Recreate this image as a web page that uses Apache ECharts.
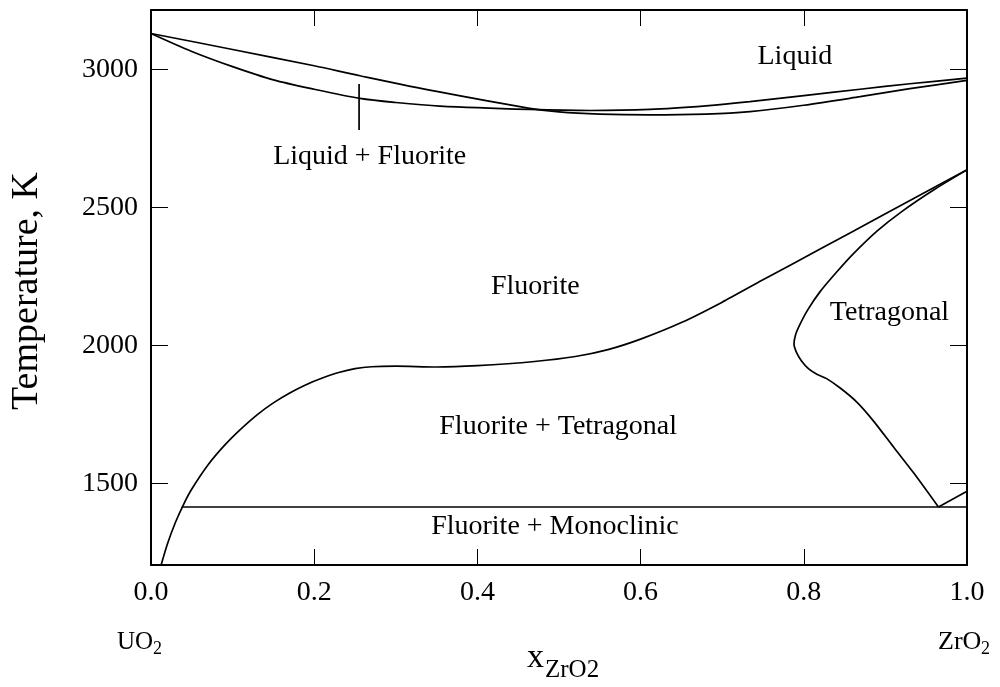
<!DOCTYPE html>
<html><head><meta charset="utf-8">
<script src="https://cdn.jsdelivr.net/npm/echarts@6/dist/echarts.min.js"></script>
<style>html,body{margin:0;padding:0;background:#fff}#c{width:1000px;height:687px}</style>
</head><body><div id="c"></div>
<script>
// ---- data ----
const yTickValues = [1500, 2000, 2500, 3000];
const xTickInterval = 0.2;

const liquidusX = [0, 0.1, 0.2, 0.256, 0.35, 0.464, 0.5, 0.55, 0.611, 0.68, 0.734, 0.8, 0.869, 0.93, 1.0];
const liquidusT = [3130, 3072, 3013, 2977, 2920, 2859, 2846, 2838, 2835, 2838, 2847, 2870, 2901, 2930, 2960];

const solidusX = [0, 0.05, 0.1, 0.15, 0.2, 0.256, 0.3, 0.354, 0.464, 0.538, 0.611, 0.68, 0.734, 0.8, 0.869, 0.93, 1.0];
const solidusT = [3130, 3065, 3010, 2962, 2928, 2895, 2880, 2867, 2855, 2851, 2855, 2868, 2883, 2905, 2928, 2948, 2968];

const fluoriteX = [0.010, 0.02, 0.03, 0.04, 0.05, 0.07, 0.09, 0.11, 0.13, 0.15, 0.17, 0.19, 0.21, 0.23, 0.25, 0.27, 0.30, 0.35, 0.40, 0.47, 0.52, 0.56, 0.60, 0.65, 0.70, 0.75, 0.82, 0.90, 1.0];
const fluoriteT = [1180, 1280, 1360, 1425, 1480, 1568, 1638, 1697, 1749, 1792, 1828, 1858, 1882, 1902, 1916, 1923, 1925, 1922, 1927, 1942, 1960, 1985, 2023, 2083, 2157, 2238, 2349, 2477, 2636];

const tetragonalX = [1.0, 0.96, 0.92, 0.89, 0.86, 0.84, 0.82, 0.805, 0.795, 0.790, 0.788, 0.791, 0.797, 0.806, 0.816, 0.828, 0.845, 0.865, 0.885, 0.91, 0.935, 0.965];
const tetragonalT = [2636, 2565, 2485, 2415, 2330, 2265, 2195, 2130, 2075, 2040, 2005, 1975, 1945, 1915, 1896, 1880, 1845, 1795, 1728, 1632, 1537, 1415];

const monoclinicX = [0.965, 1.0];
const monoclinicT = [1415, 1472];

const eutectoidX = [0.0376, 1.0];
const eutectoidT = [1415, 1415];

const markerX = [0.255, 0.255];
const markerT = [2780, 2947];

const regionNames = ['Liquid', 'Liquid + Fluorite', 'Fluorite', 'Tetragonal', 'Fluorite + Tetragonal', 'Fluorite + Monoclinic'];
const regionX = [0.789, 0.268, 0.471, 0.905, 0.499, 0.495];
const regionT = [3045, 2683, 2213, 2118, 1706, 1344];

// ---- chart ----
const FONT = "'Liberation Serif', 'Times New Roman', serif";
const pairs = (xs, ys) => xs.map((x, i) => [x, ys[i]]);
const chart = echarts.init(document.getElementById('c'), null, {renderer: 'canvas'});

function lineSeries(xs, ys, smooth) {
  return {
    type: 'line', data: pairs(xs, ys), showSymbol: false, symbol: 'none',
    smooth: smooth, lineStyle: {color: '#000', width: 1.7}, silent: true, clip: true
  };
}

const axisCommonX = {
  type: 'value', min: 0, max: 1, interval: xTickInterval,
  axisLine: {show: true, onZero: false, lineStyle: {color: '#000', width: 2}},
  axisTick: {show: true, inside: true, length: 16, lineStyle: {color: '#000', width: 1}},
  splitLine: {show: false}
};
const axisCommonY = {
  type: 'value', min: 1205, max: 3215,
  axisLine: {show: true, onZero: false, lineStyle: {color: '#000', width: 2}},
  axisTick: {show: true, inside: true, length: 17, customValues: yTickValues, lineStyle: {color: '#000', width: 1}},
  splitLine: {show: false}
};

chart.setOption({
  animation: false,
  backgroundColor: '#fff',
  grid: {left: 151, right: 33, top: 10, bottom: 122, containLabel: false},
  xAxis: [
    Object.assign({}, axisCommonX, {
      position: 'bottom',
      axisLabel: {show: true, margin: 14, color: '#000', fontFamily: FONT, fontSize: 28,
        formatter: v => v.toFixed(1)}
    }),
    Object.assign({}, axisCommonX, {position: 'top', axisLabel: {show: false}})
  ],
  yAxis: [
    Object.assign({}, axisCommonY, {
      position: 'left',
      axisLabel: {show: true, margin: 13, color: '#000', fontFamily: FONT, fontSize: 28,
        customValues: yTickValues, formatter: v => String(v)}
    }),
    Object.assign({}, axisCommonY, {position: 'right', axisLabel: {show: false}})
  ],
  series: [
    lineSeries(liquidusX, liquidusT, 0.3),
    lineSeries(solidusX, solidusT, 0.3),
    lineSeries(fluoriteX, fluoriteT, 0.25),
    lineSeries(tetragonalX, tetragonalT, 0.25),
    lineSeries(monoclinicX, monoclinicT, false),
    lineSeries(eutectoidX, eutectoidT, false),
    lineSeries(markerX, markerT, false),
    {
      type: 'scatter', silent: true, symbolSize: 1,
      itemStyle: {color: 'rgba(0,0,0,0)'},
      data: regionNames.map((n, i) => ({name: n, value: [regionX[i], regionT[i]]})),
      label: {show: true, position: 'inside', formatter: '{b}', color: '#000', opacity: 1,
        textBorderWidth: 0, fontFamily: FONT, fontSize: 28}
    }
  ],
  graphic: [
    {type: 'text', x: 27, y: 291, rotation: Math.PI / 2,
      style: {text: 'Temperature, K', font: "38px " + FONT, fill: '#000', align: 'center', verticalAlign: 'middle'}},
    {type: 'text', x: 117, y: 642,
      style: {text: 'UO', font: "25px " + FONT, fill: '#000', align: 'left', verticalAlign: 'middle'}},
    {type: 'text', x: 153, y: 649,
      style: {text: '2', font: "18px " + FONT, fill: '#000', align: 'left', verticalAlign: 'middle'}},
    {type: 'text', x: 938, y: 642,
      style: {text: 'ZrO', font: "26px " + FONT, fill: '#000', align: 'left', verticalAlign: 'middle'}},
    {type: 'text', x: 981, y: 649,
      style: {text: '2', font: "18px " + FONT, fill: '#000', align: 'left', verticalAlign: 'middle'}},
    {type: 'text', x: 527, y: 658,
      style: {text: 'x', font: "34px " + FONT, fill: '#000', align: 'left', verticalAlign: 'middle'}},
    {type: 'text', x: 545, y: 670,
      style: {text: 'ZrO2', font: "25px " + FONT, fill: '#000', align: 'left', verticalAlign: 'middle'}}
  ]
});
</script>
</body></html>
